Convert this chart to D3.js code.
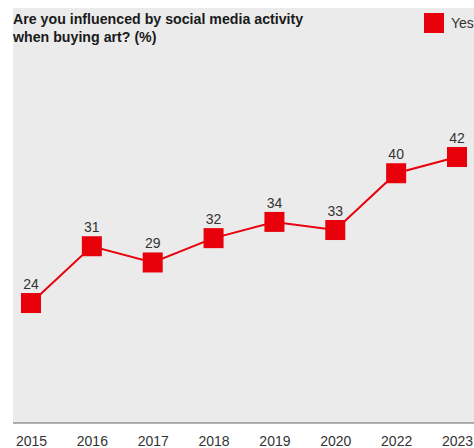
<!DOCTYPE html>
<html>
<head>
<meta charset="utf-8">
<script src="https://cdn.jsdelivr.net/npm/d3@7"></script>
<style>
  html, body { margin: 0; padding: 0; background: #fff; }
  svg { display: block; font-family: "Liberation Sans", Arial, Helvetica, sans-serif; }
</style>
</head>
<body>
<svg id="chart" width="474" height="448"></svg>
<script>
// Share of buyers influenced by social media activity (%)
const years = ["2015", "2016", "2017", "2018", "2019", "2020", "2022", "2023"];
const yesValues = [24, 31, 29, 32, 34, 33, 40, 42];
const seriesName = "Yes";
const titleLines = ["Are you influenced by social media activity", "when buying art? (%)"];

const W = 474, H = 448;
const red = "#e8000b";
const svg = d3.select("#chart");

const panel = { left: 13, top: 8, bottom: 423 };

svg.append("rect")
  .attr("x", panel.left).attr("y", panel.top)
  .attr("width", W - panel.left).attr("height", panel.bottom - panel.top)
  .attr("fill", "#ebebeb");

const x = d3.scalePoint().domain(years).range([31, 457]);
const y = d3.scaleLinear().domain([10, 60]).range([416.6, 11]);

// Baseline axis with year labels
const xAxis = svg.append("g")
  .attr("transform", `translate(0,${panel.bottom})`)
  .call(d3.axisBottom(x).tickSize(0).tickPadding(13));
xAxis.select(".domain").remove();
xAxis.selectAll("text")
  .attr("font-size", 14)
  .attr("fill", "#333")
  .attr("font-family", "Liberation Sans, Arial, sans-serif");
svg.append("line")
  .attr("x1", panel.left).attr("x2", W)
  .attr("y1", panel.bottom).attr("y2", panel.bottom)
  .attr("stroke", "#666").attr("stroke-width", 1);

// Title
const title = svg.append("text")
  .attr("x", panel.left).attr("y", 24)
  .attr("font-size", 14.2).attr("font-weight", "bold").attr("fill", "#1a1a1a");
titleLines.forEach((t, i) => {
  title.append("tspan").attr("x", panel.left).attr("dy", i === 0 ? 0 : 18).text(t);
});

// Legend
svg.append("rect").attr("x", 424).attr("y", 13).attr("width", 20).attr("height", 20).attr("fill", red);
svg.append("text").attr("x", 451).attr("y", 28)
  .attr("font-size", 14).attr("fill", "#333").text(seriesName);

const data = years.map((yr, i) => ({ year: yr, value: yesValues[i] }));

// Line
svg.append("path")
  .datum(data)
  .attr("fill", "none")
  .attr("stroke", red)
  .attr("stroke-width", 2)
  .attr("d", d3.line().x(d => x(d.year)).y(d => y(d.value)));

// Square markers
const size = 20;
svg.selectAll("rect.marker")
  .data(data)
  .join("rect")
  .attr("class", "marker")
  .attr("x", d => x(d.year) - size / 2)
  .attr("y", d => y(d.value) - size / 2)
  .attr("width", size).attr("height", size)
  .attr("fill", red);

// Value labels
svg.selectAll("text.value")
  .data(data)
  .join("text")
  .attr("class", "value")
  .attr("x", d => x(d.year))
  .attr("y", d => y(d.value) - size / 2 - 4)
  .attr("text-anchor", "middle")
  .attr("font-size", 14)
  .attr("fill", "#333")
  .text(d => d.value);
</script>
</body>
</html>
